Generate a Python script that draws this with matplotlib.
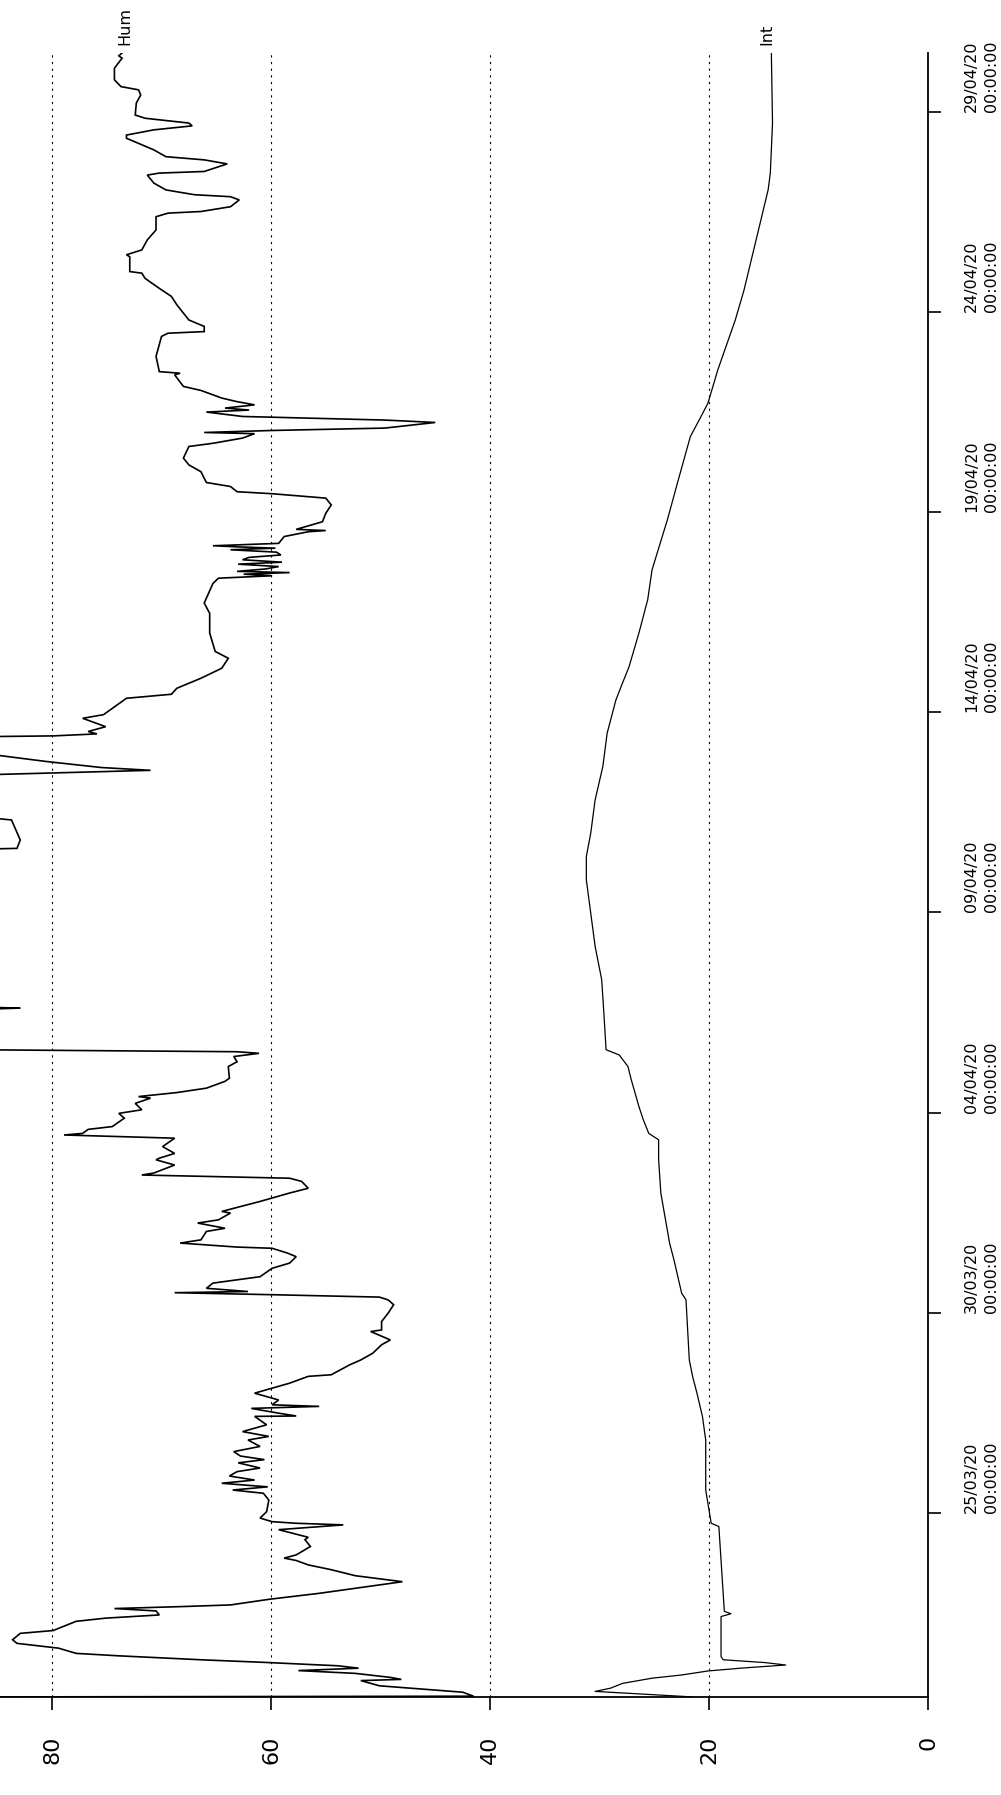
import numpy as np
import matplotlib
matplotlib.use("Agg")
import matplotlib.pyplot as plt
import matplotlib.dates as mdates
from datetime import datetime

# ---------------- data (days since 25/03/2020 00:00, values) ----------------
base_date = datetime(2020, 3, 25)

hum_days = [
    -4.60, -4.58, -4.48, -4.32, -4.19, -4.16, -4.11, -4.01, -3.94, -3.88,
    -3.82, -3.74, -3.67, -3.57, -3.51, -3.38, -3.26, -3.17, -3.01, -2.94,
    -2.71, -2.63, -2.55, -2.45, -2.39, -2.34, -2.30, -2.16, -2.01, -1.72,
    -1.57, -1.42, -1.30, -1.19, -1.13, -1.05, -0.84, -0.67, -0.61, -0.42,
    -0.30, -0.26, -0.22, -0.13, 0.03, 0.32, 0.49, 0.57, 0.65, 0.74,
    0.82, 0.92, 1.03, 1.12, 1.25, 1.33, 1.42, 1.53, 1.66, 1.82,
    1.91, 2.03, 2.20, 2.41, 2.42, 2.49, 2.61, 2.66, 2.70, 2.82,
    2.99, 3.24, 3.41, 3.45, 3.70, 3.82, 3.99, 4.20, 4.32, 4.53,
    4.57, 4.78, 4.99, 5.20, 5.32, 5.39, 5.45, 5.50, 5.53, 5.61,
    5.74, 5.90, 6.11, 6.24, 6.40, 6.49, 6.61, 6.64, 6.74, 6.82,
    7.03, 7.11, 7.24, 7.32, 7.49, 7.53, 7.78, 7.99, 8.11, 8.28,
    8.36, 8.44, 8.49, 8.69, 8.82, 8.86, 8.98, 9.15, 9.36, 9.44,
    9.48, 9.58, 9.65, 9.86, 9.98, 10.07, 10.23, 10.36, 10.40, 10.44,
    10.50, 10.61, 10.78, 10.86, 11.15, 11.27, 11.40, 11.48, 11.52, 11.58,
    12.00, 12.55, 12.61, 12.67, 16.00, 16.56, 16.60, 16.81, 17.31, 17.48,
    18.00, 18.41, 18.55, 18.62, 18.77, 19.10, 19.38, 19.41, 19.46, 19.52,
    19.64, 19.85, 19.94, 20.35, 20.45, 20.60, 20.85, 21.10, 21.35, 21.52,
    21.98, 22.47, 22.73, 23.22, 23.35, 23.41, 23.45, 23.49, 23.52, 23.58,
    23.64, 23.70, 23.75, 23.81, 23.87, 23.93, 24.00, 24.06, 24.10, 24.13,
    24.16, 24.22, 24.39, 24.51, 24.54, 24.57, 24.76, 24.97, 25.18, 25.35,
    25.46, 25.51, 25.64, 25.74, 26.01, 26.18, 26.35, 26.64, 26.72, 26.85,
    26.96, 26.99, 27.04, 27.10, 27.24, 27.30, 27.37, 27.39, 27.50, 27.55,
    27.60, 27.68, 27.76, 27.85, 28.04, 28.14, 28.43, 28.47, 28.51, 28.89,
    29.39, 29.47, 29.51, 29.64, 29.80, 30.18, 30.39, 30.59, 30.84, 30.97,
    31.01, 31.38, 31.43, 31.55, 31.80, 32.05, 32.38, 32.47, 32.51, 32.63,
    32.80, 32.88, 32.93, 33.05, 33.22, 33.42, 33.47, 33.51, 33.70, 33.80,
    33.88, 34.05, 34.34, 34.42, 34.55, 34.65, 34.72, 34.84, 34.92, 35.22,
    35.42, 35.55, 35.63, 35.80, 36.09, 36.34, 36.40, 36.47,
]
hum_values = [
    90.0, 41.5, 42.5, 50.1, 51.8, 48.1, 49.1, 52.3, 57.5, 52.0,
    53.9, 60.2, 66.4, 74.0, 77.8, 79.4, 83.2, 83.6, 82.9, 79.9,
    77.8, 75.1, 70.2, 70.5, 74.3, 68.0, 63.7, 60.2, 55.6, 48.0,
    52.3, 54.5, 56.6, 57.7, 58.8, 57.7, 56.4, 56.9, 56.6, 59.3,
    53.4, 57.7, 59.9, 61.0, 60.4, 60.2, 60.7, 63.5, 60.3, 64.5,
    61.5, 63.8, 63.1, 61.0, 63.0, 60.6, 62.8, 63.4, 61.0, 62.1,
    60.2, 62.6, 60.4, 61.5, 57.7, 59.3, 61.8, 55.6, 59.9, 59.3,
    61.5, 58.3, 56.6, 54.5, 52.8, 51.8, 50.7, 49.9, 49.1, 50.9,
    49.9, 49.9, 49.3, 48.8, 49.3, 50.1, 59.9, 68.8, 62.1, 65.9,
    65.3, 61.0, 59.9, 58.3, 57.7, 58.5, 59.9, 63.1, 68.3, 66.4,
    65.9, 64.2, 66.7, 64.8, 63.7, 64.5, 61.0, 58.3, 56.6, 57.2,
    58.3, 71.8, 70.7, 68.8, 70.5, 70.2, 68.8, 69.9, 68.8, 78.9,
    77.2, 76.7, 74.5, 73.4, 73.9, 71.8, 72.4, 71.0, 72.1, 70.7,
    68.6, 65.9, 64.2, 63.8, 63.9, 63.1, 63.4, 61.1, 63.1, 92.0,
    92.0, 90.0, 82.9, 92.0, 92.0, 90.0, 83.2, 82.9, 83.7, 90.0,
    92.0, 90.0, 71.0, 75.5, 80.5, 90.0, 90.0, 79.9, 75.9, 76.7,
    75.1, 77.2, 75.3, 73.2, 69.1, 68.6, 66.4, 64.5, 63.9, 65.1,
    65.6, 65.6, 66.1, 65.3, 64.8, 59.9, 62.5, 58.3, 63.1, 60.5,
    59.3, 63.0, 59.0, 62.6, 62.0, 59.1, 59.5, 63.7, 59.6, 62.8,
    65.3, 59.3, 58.8, 56.6, 55.0, 57.7, 55.3, 55.0, 54.5, 55.0,
    59.9, 63.1, 63.7, 65.9, 66.4, 67.5, 68.0, 67.5, 65.3, 62.6,
    61.5, 66.1, 59.9, 49.6, 45.0, 49.6, 59.9, 62.6, 65.9, 62.0,
    64.2, 61.5, 63.1, 64.5, 66.4, 68.0, 68.8, 68.3, 70.2, 70.5,
    70.0, 69.4, 66.1, 66.1, 67.5, 68.6, 69.1, 70.2, 71.5, 71.8,
    72.9, 72.9, 73.2, 71.8, 71.3, 70.5, 70.5, 69.4, 66.4, 63.7,
    62.9, 63.7, 67.0, 69.6, 70.7, 71.3, 70.2, 66.1, 64.0, 66.1,
    69.6, 70.7, 73.2, 73.2, 70.7, 67.2, 67.5, 71.5, 72.4, 72.3,
    71.9, 72.1, 73.7, 74.3, 74.3, 73.6, 73.9, 73.6,
]

int_days = [
    -4.60, -4.46, -4.38, -4.26, -4.13, -4.05, -3.95, -3.88, -3.80, -3.74,
    -3.67, -3.59, -2.59, -2.52, -2.46, -0.34, -0.26, 0.57, 1.82, 2.41,
    2.99, 3.41, 3.82, 5.32, 5.49, 6.32, 6.74, 7.99, 8.82, 9.32,
    9.48, 9.82, 10.15, 10.82, 11.15, 11.44, 11.57, 12.48, 13.32, 14.15,
    14.98, 15.81, 16.40, 16.98, 17.81, 18.64, 19.48, 20.31, 20.73, 21.14,
    21.98, 22.81, 23.56, 24.81, 25.81, 26.89, 27.30, 27.72, 28.55, 29.80,
    30.55, 31.80, 33.05, 33.47, 34.72, 36.38, 36.47,
]
int_values = [
    21.4, 30.4, 29.0, 27.9, 25.2, 22.5, 20.1, 17.1, 13.0, 14.9,
    18.7, 18.9, 18.9, 18.0, 18.6, 19.1, 19.8, 20.3, 20.3, 20.6,
    21.1, 21.5, 21.8, 22.1, 22.5, 23.2, 23.6, 24.4, 24.6, 24.6,
    25.5, 26.0, 26.4, 27.1, 27.4, 28.2, 29.4, 29.6, 29.8, 30.4,
    30.8, 31.2, 31.2, 30.8, 30.4, 29.7, 29.3, 28.5, 27.9, 27.3,
    26.4, 25.6, 25.2, 23.8, 22.8, 21.7, 20.9, 20.1, 19.2, 17.6,
    16.8, 15.7, 14.6, 14.4, 14.2, 14.3, 14.3,
]

value_ticks = [80, 60, 40, 20, 0]
date_ticks = ["25/03/20", "30/03/20", "04/04/20", "09/04/20",
              "14/04/20", "19/04/20", "24/04/20", "29/04/20"]
series_labels = ["Hum", "Int"]

# axis limits
time_start_days = -4.60
time_end_days = 36.47
value_left = 84.75

# ---------------- figure ----------------
W, H = 1001, 1795
fig = plt.figure(figsize=(W / 100, H / 100), dpi=100)
ax = fig.add_axes([0.0, 98 / H, 928 / W, 1644 / H])

b = mdates.date2num(base_date)
hum_y = b + np.array(hum_days)
int_y = b + np.array(int_days)

ax.plot(hum_values, hum_y, color="black", lw=1.2, solid_joinstyle="miter")
ax.plot(int_values, int_y, color="black", lw=0.9)

ax.set_xlim(value_left, 0)
ax.set_ylim(b + time_start_days, b + time_end_days)

# spines
for s in ("left", "top"):
    ax.spines[s].set_visible(False)
for s in ("right", "bottom"):
    ax.spines[s].set_linewidth(1.3)
    ax.spines[s].set_color("black")

# value axis (bottom)
ax.set_xticks(value_ticks)
ax.set_xticklabels([str(v) for v in value_ticks], rotation=90,
                   fontsize=16, family="DejaVu Sans")
ax.tick_params(axis="x", direction="out", length=9, width=1.2, pad=19)

# date axis (right)
ax.yaxis.tick_right()
tick_dt = [datetime.strptime(s, "%d/%m/%y") for s in date_ticks]
ax.set_yticks(mdates.date2num(tick_dt))
ax.set_yticklabels([d.strftime("%d/%m/%y\n%H:%M:%S") for d in tick_dt],
                   rotation=90, va="bottom", ha="left",
                   fontsize=11.5, family="DejaVu Sans", linespacing=1.4)
ax.tick_params(axis="y", direction="out", length=9, width=1.2, pad=17)

# dotted gridlines
ax.grid(axis="x", linestyle=(0, (2, 4)), color="black", lw=0.8)
ax.grid(axis="y", visible=False)

# series labels at line ends
ax.annotate(series_labels[0], xy=(hum_values[-1], hum_y[-1]), xytext=(2, 6),
            textcoords="offset points", rotation=90, ha="center", va="bottom",
            fontsize=11.5, annotation_clip=False)
ax.annotate(series_labels[1], xy=(int_values[-1], int_y[-1]), xytext=(-3, 6),
            textcoords="offset points", rotation=90, ha="center", va="bottom",
            fontsize=11.5, annotation_clip=False)

fig.savefig("out.png", dpi=100)
